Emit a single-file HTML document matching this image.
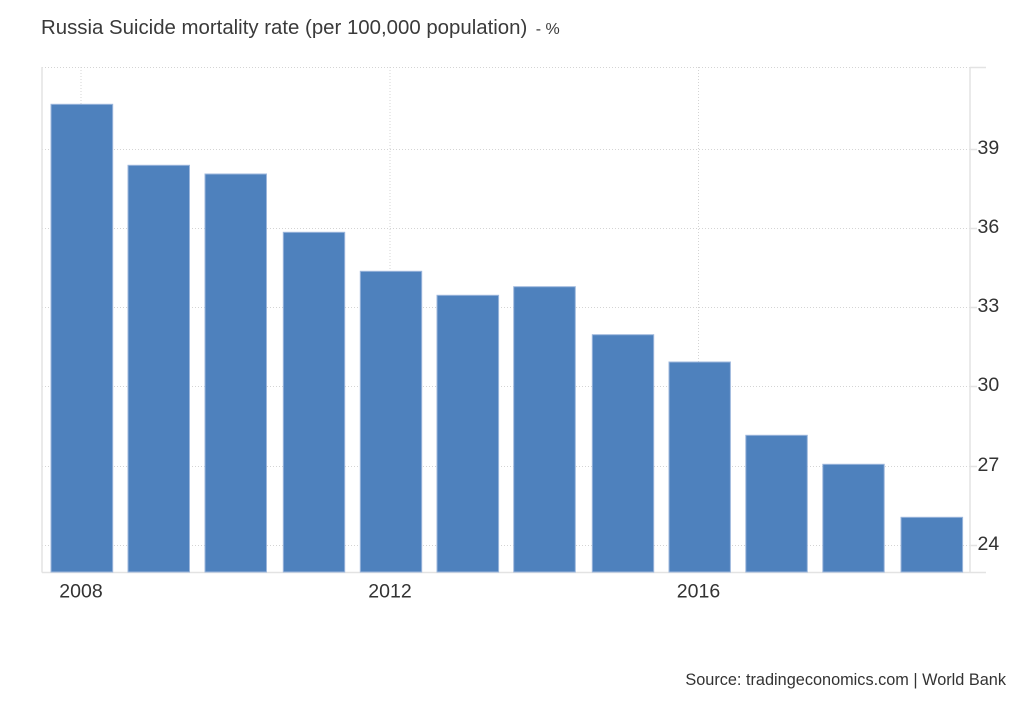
<!DOCTYPE html>
<html>
<head>
<meta charset="utf-8">
<style>
  html,body{margin:0;padding:0;background:#fff;}
  body{width:1024px;height:700px;overflow:hidden;font-family:"Liberation Sans",Arial,sans-serif;}
  svg text{font-family:"Liberation Sans",Arial,sans-serif;}
</style>
</head>
<body>
<svg width="1024" height="700" viewBox="0 0 1024 700" xmlns="http://www.w3.org/2000/svg">
  <rect x="0" y="0" width="1024" height="700" fill="#ffffff"/>
  <!-- title -->
  <text x="41" y="34" font-size="20.4" fill="#3a3a3a">Russia Suicide mortality rate (per 100,000 population)<tspan font-size="16" dx="4"> - %</tspan></text>

  <!-- horizontal gridlines (dotted) -->
  <g stroke="#d4d4d4" stroke-width="1" stroke-dasharray="1,2">
    <line x1="42" y1="67.5" x2="970" y2="67.5"/>
    <line x1="42" y1="149.5" x2="970" y2="149.5"/>
    <line x1="42" y1="228.5" x2="970" y2="228.5"/>
    <line x1="42" y1="307.5" x2="970" y2="307.5"/>
    <line x1="42" y1="386.5" x2="970" y2="386.5"/>
    <line x1="42" y1="466.5" x2="970" y2="466.5"/>
    <line x1="42" y1="545.5" x2="970" y2="545.5"/>
    <!-- vertical gridlines -->
    <line x1="81" y1="67" x2="81" y2="572"/>
    <line x1="390" y1="67" x2="390" y2="572"/>
    <line x1="698.5" y1="67" x2="698.5" y2="572"/>
  </g>

  <!-- axes -->
  <g stroke="#e3e3e3" stroke-width="1.5">
    <line x1="42" y1="67" x2="42" y2="572.5"/>
    <line x1="970" y1="67" x2="970" y2="572.5"/>
    <line x1="42" y1="572.5" x2="986" y2="572.5"/>
    <line x1="970" y1="67.5" x2="986" y2="67.5"/>
    <line x1="970" y1="149.5" x2="977" y2="149.5"/>
    <line x1="970" y1="228.5" x2="977" y2="228.5"/>
    <line x1="970" y1="307.5" x2="977" y2="307.5"/>
    <line x1="970" y1="386.5" x2="977" y2="386.5"/>
    <line x1="970" y1="466.5" x2="977" y2="466.5"/>
    <line x1="970" y1="545.5" x2="977" y2="545.5"/>
  </g>

  <!-- bars -->
  <g fill="#4e81bd" stroke="#9db7dc" stroke-width="1">
    <rect x="51" y="104.3" width="61.7" height="467.7"/>
    <rect x="128" y="165.3" width="61.5" height="406.7"/>
    <rect x="205" y="174" width="61.5" height="398"/>
    <rect x="283.3" y="232.3" width="61.4" height="339.7"/>
    <rect x="360.3" y="271.3" width="61.4" height="300.7"/>
    <rect x="437" y="295.3" width="61.6" height="276.7"/>
    <rect x="513.7" y="286.7" width="61.6" height="285.3"/>
    <rect x="592.3" y="334.7" width="61.4" height="237.3"/>
    <rect x="669" y="362" width="61.4" height="210"/>
    <rect x="745.8" y="435.3" width="61.5" height="136.7"/>
    <rect x="822.8" y="464.3" width="61.4" height="107.7"/>
    <rect x="901" y="517.3" width="61.6" height="54.7"/>
  </g>

  <!-- y labels -->
  <g font-size="19.5" fill="#333333">
    <text x="977.5" y="154">39</text>
    <text x="977.5" y="233">36</text>
    <text x="977.5" y="312">33</text>
    <text x="977.5" y="391">30</text>
    <text x="977.5" y="471">27</text>
    <text x="977.5" y="550">24</text>
  </g>

  <!-- x labels -->
  <g font-size="19.5" fill="#333333" text-anchor="middle">
    <text x="81" y="597.5">2008</text>
    <text x="390" y="597.5">2012</text>
    <text x="698.5" y="597.5">2016</text>
  </g>

  <!-- source -->
  <text x="1006" y="685" font-size="16.3" fill="#333333" text-anchor="end">Source: tradingeconomics.com | World Bank</text>
</svg>
</body>
</html>
